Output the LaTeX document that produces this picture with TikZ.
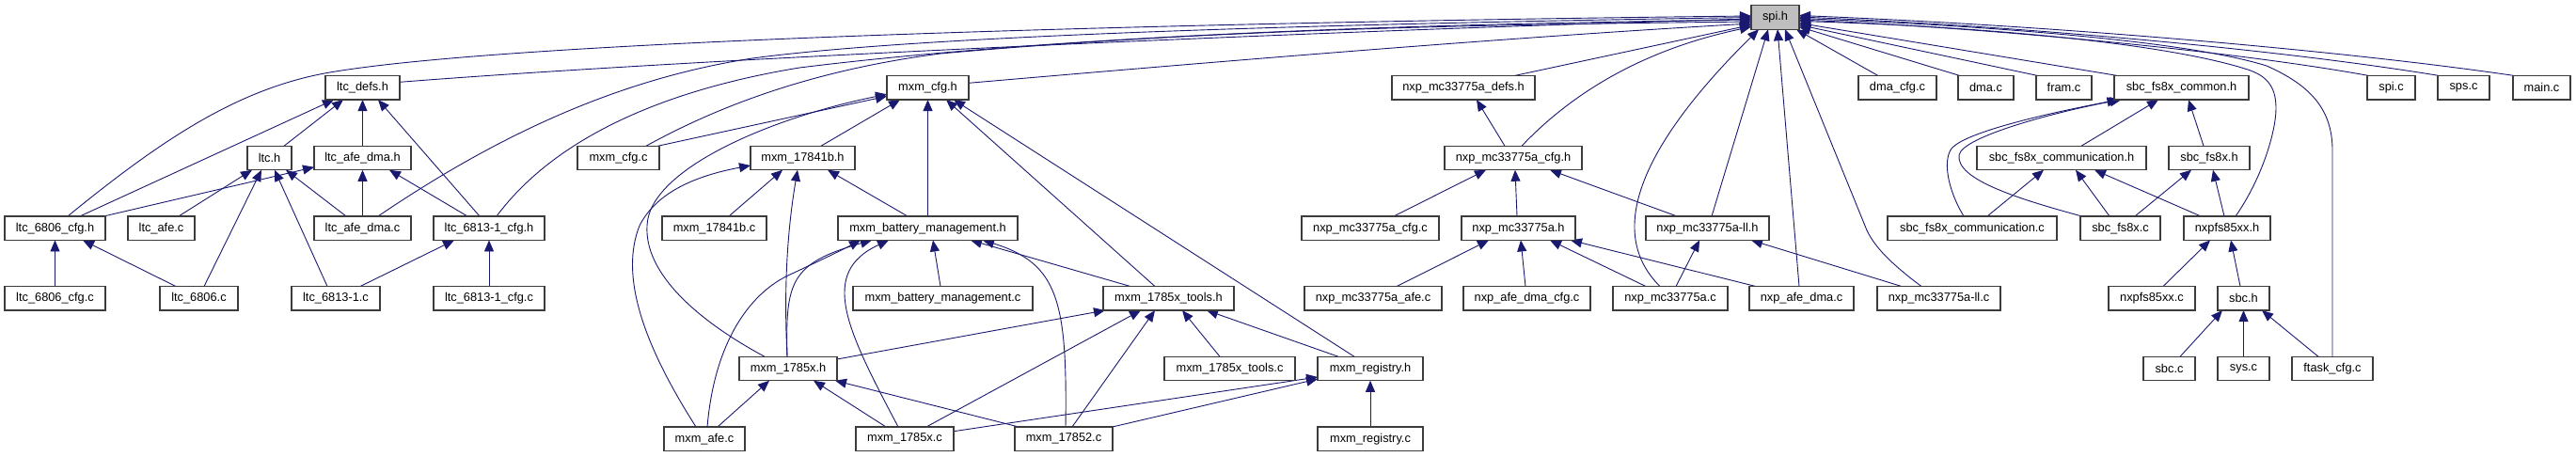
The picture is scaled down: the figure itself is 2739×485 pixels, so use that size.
\documentclass[tikz,border=0pt]{standalone}
\usepackage{fontspec}
\setmainfont{Liberation Sans}
\usetikzlibrary{arrows.meta,backgrounds}
\definecolor{edgeblue}{RGB}{25,25,112}
\definecolor{boxgray}{RGB}{60,60,60}
\definecolor{spigray}{RGB}{191,191,191}
\tikzset{
  filebox/.style={draw=boxgray, line width=1.2pt, fill=white, rectangle, inner sep=0pt, outer sep=0pt,
    minimum height=25.5pt, font=\fontsize{12.8}{14}\selectfont},
  dep/.style={draw=edgeblue, line width=0.9pt, -{Triangle[length=12pt,width=10pt]}},
}
\begin{document}
\begin{tikzpicture}[x=1pt,y=-1pt]
\useasboundingbox (0,0) rectangle (2739,485);
% row 0
\node[filebox,minimum width=51pt,fill=spigray] (spi) at (1887.5,18.5) {spi.h};
% row 1
\node[filebox,minimum width=79pt] (ltcdefs) at (385.5,93.3) {ltc\_defs.h};
\node[filebox,minimum width=87pt] (mxmcfgh) at (986.5,93.3) {mxm\_cfg.h};
\node[filebox,minimum width=152pt] (nxpdefs) at (1556,93.3) {nxp\_mc33775a\_defs.h};
\node[filebox,minimum width=83pt] (dmacfgc) at (2017.5,93.3) {dma\_cfg.c};
\node[filebox,minimum width=59pt] (dmac) at (2111.5,93.3) {dma.c};
\node[filebox,minimum width=59pt] (framc) at (2194.5,93.3) {fram.c};
\node[filebox,minimum width=143pt] (sbccommonh) at (2319.5,93.3) {sbc\_fs8x\_common.h};
\node[filebox,minimum width=51pt] (spic) at (2542.5,93.3) {spi.c};
\node[filebox,minimum width=55pt] (spsc) at (2619.5,93.3) {sps.c};
\node[filebox,minimum width=61pt] (mainc) at (2702.5,93.3) {main.c};
% row 2
\node[filebox,minimum width=47pt] (ltch) at (286.5,168) {ltc.h};
\node[filebox,minimum width=103pt] (ltcafedmah) at (385.5,168) {ltc\_afe\_dma.h};
\node[filebox,minimum width=87pt] (mxmcfgc) at (657.5,168) {mxm\_cfg.c};
\node[filebox,minimum width=111pt] (mxm17841bh) at (853.5,168) {mxm\_17841b.h};
\node[filebox,minimum width=146pt] (nxpcfgh) at (1609,168) {nxp\_mc33775a\_cfg.h};
\node[filebox,minimum width=180pt] (sbccommh) at (2192,168) {sbc\_fs8x\_communication.h};
\node[filebox,minimum width=86pt] (sbcfs8xh) at (2349,168) {sbc\_fs8x.h};
% row 3
\node[filebox,minimum width=107pt] (ltc6806cfgh) at (58.5,242.7) {ltc\_6806\_cfg.h};
\node[filebox,minimum width=71pt] (ltcafec) at (171.5,242.7) {ltc\_afe.c};
\node[filebox,minimum width=103pt] (ltcafedmac) at (385.5,242.7) {ltc\_afe\_dma.c};
\node[filebox,minimum width=118pt] (ltc6813cfgh) at (520,242.7) {ltc\_6813-1\_cfg.h};
\node[filebox,minimum width=111pt] (mxm17841bc) at (759.5,242.7) {mxm\_17841b.c};
\node[filebox,minimum width=191pt] (mbmh) at (986.5,242.7) {mxm\_battery\_management.h};
\node[filebox,minimum width=146pt] (nxpcfgc) at (1457,242.7) {nxp\_mc33775a\_cfg.c};
\node[filebox,minimum width=121pt] (nxph) at (1614.5,242.7) {nxp\_mc33775a.h};
\node[filebox,minimum width=131pt] (nxpllh) at (1815.5,242.7) {nxp\_mc33775a-ll.h};
\node[filebox,minimum width=180pt] (sbccommc) at (2097,242.7) {sbc\_fs8x\_communication.c};
\node[filebox,minimum width=85pt] (sbcfs8xc) at (2254.5,242.7) {sbc\_fs8x.c};
\node[filebox,minimum width=92pt] (nxpfsh) at (2368,242.7) {nxpfs85xx.h};
% row 4
\node[filebox,minimum width=107pt] (ltc6806cfgc) at (58.5,317.3) {ltc\_6806\_cfg.c};
\node[filebox,minimum width=83pt] (ltc6806c) at (211.5,317.3) {ltc\_6806.c};
\node[filebox,minimum width=94pt] (ltc6813c) at (357,317.3) {ltc\_6813-1.c};
\node[filebox,minimum width=118pt] (ltc6813cfgc) at (520,317.3) {ltc\_6813-1\_cfg.c};
\node[filebox,minimum width=191pt] (mbmc) at (1002.5,317.3) {mxm\_battery\_management.c};
\node[filebox,minimum width=139pt] (toolsh) at (1242.5,317.3) {mxm\_1785x\_tools.h};
\node[filebox,minimum width=146pt] (nxpafec) at (1460,317.3) {nxp\_mc33775a\_afe.c};
\node[filebox,minimum width=135pt] (nxpadcfgc) at (1623.5,317.3) {nxp\_afe\_dma\_cfg.c};
\node[filebox,minimum width=122pt] (nxpc) at (1776,317.3) {nxp\_mc33775a.c};
\node[filebox,minimum width=111pt] (nxpadmac) at (1915.5,317.3) {nxp\_afe\_dma.c};
\node[filebox,minimum width=131pt] (nxpllc) at (2061.5,317.3) {nxp\_mc33775a-ll.c};
\node[filebox,minimum width=92pt] (nxpfsc) at (2288,317.3) {nxpfs85xx.c};
\node[filebox,minimum width=55pt] (sbch) at (2385.5,317.3) {sbc.h};
% row 5
\node[filebox,minimum width=104pt] (m1785xh) at (838,392) {mxm\_1785x.h};
\node[filebox,minimum width=139pt] (toolsc) at (1307.5,392) {mxm\_1785x\_tools.c};
\node[filebox,minimum width=112pt] (regh) at (1457,392) {mxm\_registry.h};
\node[filebox,minimum width=55pt] (sbcc) at (2306.5,392) {sbc.c};
\node[filebox,minimum width=55pt] (sysc) at (2385.5,392) {sys.c};
\node[filebox,minimum width=86pt] (ftaskc) at (2480,392) {ftask\_cfg.c};
% row 6
\node[filebox,minimum width=86pt] (mxmafec) at (749,466.7) {mxm\_afe.c};
\node[filebox,minimum width=104pt] (m1785xc) at (962,466.7) {mxm\_1785x.c};
\node[filebox,minimum width=104pt] (m17852c) at (1131,466.7) {mxm\_17852.c};
\node[filebox,minimum width=112pt] (regc) at (1457,466.7) {mxm\_registry.c};

\begin{scope}[on background layer]
% ltc group
\draw[dep] (ltc6806cfgc.north) -- (ltc6806cfgh.south);
\draw[dep] ([xshift=-24.5]ltc6806c.north) -- ([xshift=29.5]ltc6806cfgh.south);
\draw[dep] ([xshift=26.5]ltc6806cfgh.north) -- ([xshift=-30.5]ltcdefs.south);
\draw[dep] ([xshift=15.5]ltch.north) -- ([xshift=-20.5]ltcdefs.south);
\draw[dep] (ltcafedmah.north) -- (ltcdefs.south);
\draw[dep] ([xshift=-10]ltc6813cfgh.north) -- ([xshift=16.5]ltcdefs.south);
\draw[dep] ([xshift=18.5]ltcafec.north) -- ([xshift=-18.5]ltch.south);
\draw[dep] ([xshift=5.5]ltc6806c.north) -- ([xshift=-8.5]ltch.south);
\draw[dep] ([xshift=-9]ltc6813c.north) -- ([xshift=5.5]ltch.south);
\draw[dep] ([xshift=-17.5]ltcafedmac.north) -- ([xshift=17.5]ltch.south);
\draw[dep] ([xshift=52]ltc6806cfgh.north) -- ([yshift=3]ltcafedmah.south west);
\draw[dep] (ltcafedmac.north) -- (ltcafedmah.south);
\draw[dep] ([xshift=-23]ltc6813cfgh.north) -- ([xshift=28.5]ltcafedmah.south);
\draw[dep] ([xshift=26]ltc6813c.north) -- ([xshift=-37]ltc6813cfgh.south);
\draw[dep] (ltc6813cfgc.north) -- (ltc6813cfgh.south);
% long edges to spi.h from the left
\draw[dep] ([xshift=13.5]ltc6806cfgh.north) .. controls (170,150) and (250,96) .. (345,78) .. controls (560,39) and (1400,22) .. ([yshift=1.5]spi.west);
\draw[dep] ([yshift=6]ltcdefs.east) .. controls (800,58) and (1500,30) .. ([yshift=-1.5]spi.west);
\draw[dep] ([xshift=16.5]ltcafedmac.north) .. controls (520,150) and (650,85) .. (800,62) .. controls (1000,35) and (1500,24) .. (spi.west);
\draw[dep] ([xshift=8]ltc6813cfgh.north) .. controls (580,160) and (680,100) .. (850,72) .. controls (1150,35) and (1550,25) .. ([yshift=-2.5]spi.west);
\draw[dep] ([xshift=29.5]mxmcfgc.north) .. controls (760,115) and (860,75) .. (1000,57) .. controls (1300,30) and (1600,26) .. ([yshift=-4.5]spi.west);
\draw[dep] ([yshift=5]mxmcfgh.east) .. controls (1300,65) and (1600,40) .. ([yshift=-6.5]spi.west);
\draw[dep] ([xshift=54]nxpdefs.north) -- ([yshift=-8]spi.west);
\draw[dep] ([xshift=9]nxpcfgh.north) .. controls (1680,90) and (1760,50) .. ([yshift=-10]spi.west);
\draw[dep] ([xshift=-11]nxpc.north) .. controls (1700,240) and (1760,140) .. ([xshift=-17.5]spi.south);
\draw[dep] ([xshift=4.5]nxpllh.north) -- ([xshift=-7.5]spi.south);
\draw[dep] ([xshift=-2.5]nxpadmac.north) -- ([xshift=2.5]spi.south);
\draw[dep] ([xshift=-18.5]nxpllc.north) .. controls (2010,280) and (1993,262) .. (1985,245) -- ([xshift=10.5]spi.south);
% edges to spi.h from the right
\draw[dep] ([xshift=-20.5]dmacfgc.north) -- ([xshift=-3]spi.south east);
\draw[dep] ([xshift=-27.5]dmac.north) -- ([yshift=-10]spi.east);
\draw[dep] ([xshift=-27.5]framc.north) -- ([yshift=-8]spi.east);
\draw[dep] ([xshift=-67.5]sbccommonh.north) -- ([yshift=-6]spi.east);
\draw[dep] ([xshift=-23.5]spic.north) .. controls (2380,55) and (2120,30) .. ([yshift=-2.5]spi.east);
\draw[dep] ([xshift=-25.5]spsc.north) .. controls (2420,52) and (2150,28) .. ([yshift=0.5]spi.east);
\draw[dep] ([xshift=-28.5]mainc.north) .. controls (2500,55) and (2200,28) .. ([yshift=2]spi.east);
\draw[dep] ([xshift=9]nxpfsh.north) .. controls (2405,190) and (2420,140) .. (2420,115) .. controls (2420,90) and (2408,80) .. (2390,74) .. controls (2300,45) and (2100,28) .. ([yshift=-4]spi.east);
\draw[dep] (ftaskc.north) -- (2480,160) .. controls (2480,115) and (2455,90) .. (2410,70) .. controls (2320,42) and (2100,27) .. ([yshift=-1]spi.east);
% sbc group
\draw[dep] ([xshift=21]sbccommh.north) -- ([xshift=-24.5]sbccommonh.south);
\draw[dep] ([xshift=-6]sbcfs8xh.north) -- ([xshift=7.5]sbccommonh.south);
\draw[dep] ([xshift=-9]sbccommc.north) .. controls (2070,200) and (2066,170) .. (2075,158) .. controls (2090,140) and (2180,120) .. ([xshift=-67]sbccommonh.south);
\draw[dep] ([xshift=-41]sbcfs8xc.north) .. controls (2140,210) and (2080,190) .. (2083,165) .. controls (2086,145) and (2190,118) .. ([xshift=-64]sbccommonh.south);
\draw[dep] ([xshift=16]sbccommc.north) -- ([xshift=-19]sbccommh.south);
\draw[dep] ([xshift=-11.5]sbcfs8xc.north) -- ([xshift=15]sbccommh.south);
\draw[dep] ([xshift=-28]nxpfsh.north) -- ([xshift=35]sbccommh.south);
\draw[dep] ([xshift=15.5]sbcfs8xc.north) -- ([xshift=-19]sbcfs8xh.south);
\draw[dep] ([xshift=-3]nxpfsh.north) -- ([xshift=4]sbcfs8xh.south);
\draw[dep] ([xshift=12]nxpfsc.north) -- ([xshift=-18]nxpfsh.south);
\draw[dep] ([xshift=-3.5]sbch.north) -- ([xshift=4]nxpfsh.south);
\draw[dep] ([xshift=11.5]sbcc.north) -- ([xshift=-22.5]sbch.south);
\draw[dep] (sysc.north) -- (sbch.south);
\draw[dep] ([xshift=-15]ftaskc.north) -- ([xshift=19.5]sbch.south);
% nxp group
\draw[dep] ([xshift=-9]nxpcfgh.north) -- ([xshift=14]nxpdefs.south);
\draw[dep] ([xshift=25]nxpcfgc.north) -- ([xshift=-29]nxpcfgh.south);
\draw[dep] ([xshift=-1.5]nxph.north) -- ([xshift=2]nxpcfgh.south);
\draw[dep] ([xshift=-32.5]nxpllh.north) -- ([xshift=39]nxpcfgh.south);
\draw[dep] ([xshift=25]nxpafec.north) -- ([xshift=-31.5]nxph.south);
\draw[dep] ([xshift=-1.5]nxpadcfgc.north) -- ([xshift=2.5]nxph.south);
\draw[dep] ([xshift=-26]nxpc.north) -- ([xshift=33.5]nxph.south);
\draw[dep] ([xshift=-48.5]nxpadmac.north) -- ([xshift=55.5]nxph.south);
\draw[dep] ([xshift=6]nxpc.north) -- ([xshift=-8.5]nxpllh.south);
\draw[dep] ([xshift=-39.5]nxpllc.north) -- ([xshift=46.5]nxpllh.south);
% mxm group
\draw[dep] ([xshift=42]mxmcfgc.north) -- ([yshift=-9]mxmcfgh.west);
\draw[dep] ([xshift=-25]m1785xh.north) .. controls (740,340) and (685,290) .. (688,240) .. controls (690,180) and (820,125) .. ([yshift=-7]mxmcfgh.west);
\draw[dep] ([xshift=19.5]mxm17841bh.north) -- ([xshift=-29.5]mxmcfgh.south);
\draw[dep] (mbmh.north) -- (mxmcfgh.south);
\draw[dep] ([xshift=-14.5]toolsh.north) -- ([xshift=19.5]mxmcfgh.south);
\draw[dep] ([xshift=-17]regh.north) -- ([xshift=27.5]mxmcfgh.south);
\draw[dep] ([xshift=15.5]mxm17841bc.north) -- ([xshift=-21.5]mxm17841bh.south);
\draw[dep] ([xshift=-1]m1785xh.north) .. controls (833,300) and (838,240) .. ([xshift=-5.5]mxm17841bh.south);
\draw[dep] ([xshift=-21.5]mbmh.north) -- ([xshift=26.5]mxm17841bh.south);
\draw[dep] ([xshift=-9]mxmafec.north) .. controls (680,360) and (660,290) .. (680,240) .. controls (700,200) and (750,185) .. ([yshift=-8]mxm17841bh.west);
\draw[dep] ([xshift=3]mxmafec.north) .. controls (760,360) and (800,310) .. (840,292) .. controls (870,278) and (895,266) .. ([xshift=-71.5]mbmh.south);
\draw[dep] ([xshift=-1]m1785xh.north) .. controls (835,300) and (840,280) .. ([xshift=-59.5]mbmh.south);
\draw[dep] ([xshift=-7]m1785xc.north) .. controls (900,350) and (870,290) .. ([xshift=-41.5]mbmh.south);
\draw[dep] ([xshift=-2.5]mbmc.north) -- ([xshift=5.5]mbmh.south);
\draw[dep] ([xshift=-40.5]toolsh.north) -- ([xshift=45.5]mbmh.south);
\draw[dep] ([xshift=2]m17852c.north) .. controls (1135,320) and (1125,280) .. ([xshift=58.5]mbmh.south);
\draw[dep] ([yshift=10]m1785xh.east) -- ([xshift=2]toolsh.south west);
\draw[dep] ([xshift=23]m1785xc.north) -- ([xshift=-29.5]toolsh.south);
\draw[dep] ([xshift=9]m17852c.north) -- ([xshift=-14.5]toolsh.south);
\draw[dep] ([xshift=-10.5]toolsc.north) -- ([xshift=14.5]toolsh.south);
\draw[dep] ([xshift=-34]regh.north) -- ([xshift=40.5]toolsh.south);
\draw[dep] ([xshift=14]mxmafec.north) -- ([xshift=-20]m1785xh.south);
\draw[dep] ([xshift=-20]m1785xc.north) -- ([xshift=27]m1785xh.south);
\draw[dep] ([xshift=-48]m17852c.north) -- ([xshift=-2]m1785xh.south east);
\draw[dep] ([yshift=8]m1785xc.east) -- ([yshift=-9]regh.west);
\draw[dep] (m17852c.north east) -- ([yshift=-11]regh.west);
\draw[dep] (regc.north) -- (regh.south);
\end{scope}
\end{tikzpicture}
\end{document}
